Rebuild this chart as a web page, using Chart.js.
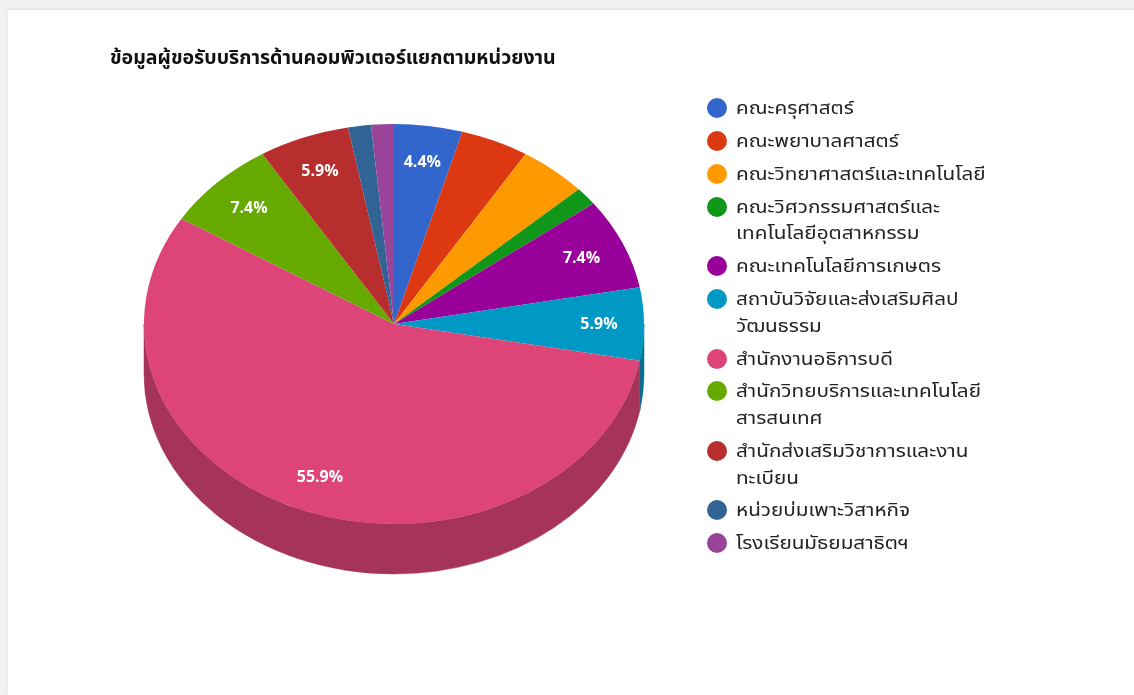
<!DOCTYPE html>
<html lang="th">
<head>
<meta charset="utf-8">
<title>ข้อมูลผู้ขอรับบริการด้านคอมพิวเตอร์แยกตามหน่วยงาน</title>
<script src="https://cdn.jsdelivr.net/npm/chart.js@4.4.1/dist/chart.umd.min.js"></script>
<style>
    html, body {
        margin: 0;
        padding: 0;
        width: 1134px;
        height: 695px;
        overflow: hidden;
        background: #f1f1f1;
        font-family: "Noto Sans Thai", "Noto Sans", "DejaVu Sans", sans-serif;
    }
    .card {
        position: absolute;
        left: 8px;
        top: 10px;
        right: 0;
        bottom: 0;
        background: #fff;
        box-shadow: 0 -1px 2px rgba(0, 0, 0, 0.08);
    }
    #chartWrap {
        position: absolute;
        left: 0;
        top: 0;
        width: 1134px;
        height: 695px;
    }
    #title {
        position: absolute;
        left: 110px;
        top: 44px;
        font-size: 19px;
        font-weight: bold;
        color: #111;
        white-space: nowrap;
        transform: scaleX(1.03);
        transform-origin: left center;
    }
    #legend {
        position: absolute;
        left: 707px;
        top: 96px;
        margin: 0;
        padding: 0;
        list-style: none;
        font-size: 18px;
        color: #222;
    }
    #legend li {
        display: flex;
        align-items: flex-start;
        margin-bottom: 6.3px;
        line-height: 26.6px;
    }
    #legend .dot {
        width: 20px;
        height: 20px;
        border-radius: 50%;
        margin-top: 2px;
        margin-right: 9px;
        flex: none;
    }
    #legend .txt {
        transform: scaleX(1.15);
        transform-origin: left center;
    }
    #legend .txt div {
        white-space: nowrap;
    }
</style>
</head>
<body>
<div class="card"></div>
<div id="chartWrap"><canvas id="pieChart"></canvas></div>
<div id="title">ข้อมูลผู้ขอรับบริการด้านคอมพิวเตอร์แยกตามหน่วยงาน</div>
<ul id="legend"></ul>

<script>
    // units (wrapped legend lines kept as arrays)
    const units = [
        ['คณะครุศาสตร์'],
        ['คณะพยาบาลศาสตร์'],
        ['คณะวิทยาศาสตร์และเทคโนโลยี'],
        ['คณะวิศวกรรมศาสตร์และ', 'เทคโนโลยีอุตสาหกรรม'],
        ['คณะเทคโนโลยีการเกษตร'],
        ['สถาบันวิจัยและส่งเสริมศิลป', 'วัฒนธรรม'],
        ['สำนักงานอธิการบดี'],
        ['สำนักวิทยบริการและเทคโนโลยี', 'สารสนเทศ'],
        ['สำนักส่งเสริมวิชาการและงาน', 'ทะเบียน'],
        ['หน่วยบ่มเพาะวิสาหกิจ'],
        ['โรงเรียนมัธยมสาธิตฯ']
    ];
    // number of requests per unit
    const requests = [3, 3, 3, 1, 5, 4, 38, 5, 4, 1, 1];
    const colors = ['#3366cc', '#dc3912', '#ff9900', '#109618', '#990099', '#0099c6',
                    '#dd4477', '#66aa00', '#b82e2e', '#316395', '#994499'];
    // slices whose percentage is printed on the pie
    const labelled = [0, 4, 5, 6, 7, 8];

    const tilt = 0.8;     // vertical squash of the pie top
    const depth = 50;     // thickness of the 3D side

    function darker(hex, f) {
        const n = parseInt(hex.slice(1), 16);
        const r = Math.round(((n >> 16) & 255) * f);
        const g = Math.round(((n >> 8) & 255) * f);
        const b = Math.round((n & 255) * f);
        return `rgb(${r},${g},${b})`;
    }

    // draws the side wall, then squashes the context so the arcs become an ellipse
    const pie3d = {
        id: 'pie3d',
        beforeDatasetsDraw(chart) {
            const ctx = chart.ctx;
            const arcs = chart.getDatasetMeta(0).data;
            if (!arcs.length) return;
            const cx = arcs[0].x, cy = arcs[0].y, r = arcs[0].outerRadius;
            const ry = r * tilt;
            const TWO_PI = Math.PI * 2;

            ctx.save();
            arcs.forEach((arc, i) => {
                // front half of the ellipse is canvas angle 0..PI (and 2PI..3PI)
                [0, TWO_PI].forEach(off => {
                    const a = Math.max(arc.startAngle, off);
                    const b = Math.min(arc.endAngle, off + Math.PI);
                    if (b <= a) return;
                    ctx.beginPath();
                    ctx.ellipse(cx, cy, r, ry, 0, a, b, false);
                    ctx.ellipse(cx, cy + depth, r, ry, 0, b, a, true);
                    ctx.closePath();
                    ctx.fillStyle = darker(colors[i], 0.75);
                    ctx.strokeStyle = darker(colors[i], 0.75);
                    ctx.lineWidth = 0.5;
                    ctx.fill();
                    ctx.stroke();
                });
            });
            ctx.restore();

            ctx.save();
            ctx.translate(cx, cy);
            ctx.scale(1, tilt);
            ctx.translate(-cx, -cy);
        },
        afterDatasetsDraw(chart) {
            const ctx = chart.ctx;
            ctx.restore();

            const arcs = chart.getDatasetMeta(0).data;
            const total = requests.reduce((s, v) => s + v, 0);
            ctx.save();
            ctx.font = 'bold 16px "Noto Sans Thai", "Noto Sans", sans-serif';
            ctx.fillStyle = '#ffffff';
            ctx.textAlign = 'center';
            ctx.textBaseline = 'middle';
            labelled.forEach(i => {
                const arc = arcs[i];
                const mid = (arc.startAngle + arc.endAngle) / 2;
                const rr = arc.outerRadius * 0.82;
                const x = arc.x + Math.cos(mid) * rr;
                const y = arc.y + Math.sin(mid) * rr * tilt + 2;
                ctx.fillText((requests[i] / total * 100).toFixed(1) + '%', x, y);
            });
            ctx.restore();
        }
    };

    new Chart(document.getElementById('pieChart'), {
        type: 'pie',
        data: {
            labels: units,
            datasets: [{
                data: requests,
                backgroundColor: colors,
                borderWidth: 0,
                clip: false
            }]
        },
        options: {
            responsive: true,
            maintainAspectRatio: false,
            animation: false,
            layout: {
                padding: { left: 144, right: 490, top: 74, bottom: 121 }
            },
            plugins: {
                legend: { display: false },
                tooltip: { enabled: false }
            }
        },
        plugins: [pie3d]
    });

    // legend
    const legend = document.getElementById('legend');
    units.forEach((lines, i) => {
        const li = document.createElement('li');
        const dot = document.createElement('span');
        dot.className = 'dot';
        dot.style.background = colors[i];
        const txt = document.createElement('span');
        txt.className = 'txt';
        lines.forEach(line => {
            const d = document.createElement('div');
            d.textContent = line;
            txt.appendChild(d);
        });
        li.appendChild(dot);
        li.appendChild(txt);
        legend.appendChild(li);
    });
</script>
</body>
</html>
